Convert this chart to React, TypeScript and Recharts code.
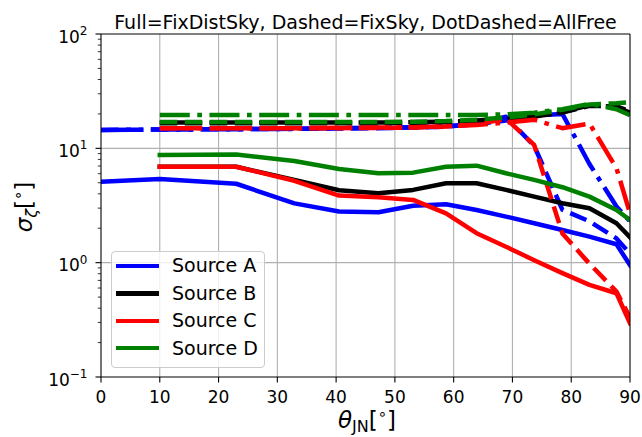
import React from 'react';
import { LineChart, Line, XAxis, YAxis, ReferenceLine, Legend } from 'recharts';

const FONT = '"DejaVu Sans", sans-serif';

// inclination angles (deg)
const theta = [0, 10, 23, 32.9, 40.5, 47.2, 53.1, 58.7, 63.9, 68.9, 73.7, 78.5, 83.1, 87.7, 90];

// Full = FixDistSky
const aFull = [5.1, 5.4, 4.9, 3.3, 2.8, 2.76, 3.15, 3.24, 2.89, 2.53, 2.21, 1.93, 1.69, 1.45, 0.95];
const bFull = [null, 6.9, 6.9, 5.3, 4.3, 4.05, 4.33, 4.95, 4.95, 4.33, 3.78, 3.31, 2.99, 2.21, 1.67];
const cFull = [null, 6.9, 6.9, 5.2, 3.86, 3.73, 3.54, 2.7, 1.81, 1.38, 1.05, 0.81, 0.64, 0.54, 0.295];
const dFull = [null, 8.75, 8.85, 7.75, 6.6, 6.05, 6.13, 6.9, 7.05, 6.05, 5.3, 4.57, 3.78, 2.89, 2.36];

// Dashed = FixSky
const aDash = [14.5, 14.6, 14.7, 14.8, 14.9, 15.0, 15.2, 15.5, 16.3, 18.9, 10.5, 2.9, 2.3, 1.63, 1.2];
const bDash = [null, 16.6, 16.6, 16.6, 16.6, 16.6, 16.7, 16.9, 17.3, 18.0, 19.0, 20.5, 23.5, 23.3, 21.0];
const cDash = [null, 15.0, 15.0, 15.0, 15.0, 15.1, 15.2, 15.5, 16.2, 18.2, 10.7, 1.8, 0.98, 0.56, 0.33];
const dDash = [null, 17.0, 17.0, 17.0, 17.0, 17.0, 17.1, 17.3, 17.8, 18.6, 19.8, 21.7, 24.2, 24.8, 25.3];

// DotDashed = AllFree
const aDot = [14.5, 14.6, 14.7, 14.8, 15.0, 15.1, 15.3, 15.6, 16.3, 17.5, 19.3, 20.0, 7.3, 3.1, 2.3];
const bDot = [null, 16.8, 16.8, 16.8, 16.8, 16.8, 16.9, 17.1, 17.5, 18.2, 19.2, 20.8, 23.8, 23.0, 20.5];
const cDot = [null, 15.0, 15.0, 15.0, 15.1, 15.2, 15.3, 15.6, 16.0, 16.8, 17.8, 15.0, 16.5, 6.7, 2.7];
const dDot = [null, 19.6, 19.6, 19.6, 19.6, 19.6, 19.6, 19.6, 19.6, 19.8, 20.5, 22.0, 24.5, 22.0, 19.5];

const sources = ['Source A', 'Source B', 'Source C', 'Source D'];
const colors = ['#0000ff', '#000000', '#ff0000', '#008000'];

const xTicks = [0, 10, 20, 30, 40, 50, 60, 70, 80, 90];
const yMajor = [0.1, 1, 10, 100];
const yMinor = [
  0.2, 0.3, 0.4, 0.5, 0.6, 0.7, 0.8, 0.9,
  2, 3, 4, 5, 6, 7, 8, 9,
  20, 30, 40, 50, 60, 70, 80, 90,
];
const xGrid = [10, 20, 30, 40, 50, 60, 70, 80];
const yGrid = [1, 10];

const TITLE = 'Full=FixDistSky, Dashed=FixSky, DotDashed=AllFree';

const seriesValues: Record<string, (number | null)[]> = {
  aFull, aDash, aDot, bFull, bDash, bDot, cFull, cDash, cDot, dFull, dDash, dDot,
};

const data = theta.map((t, i) => {
  const row: Record<string, number | null> = { theta: t };
  Object.keys(seriesValues).forEach((k) => {
    row[k] = seriesValues[k][i];
  });
  return row;
});

const DASH = '17.5 7.5';
const DOTDASH = '30 7.5 4.7 7.5';

const series = ['a', 'b', 'c', 'd'].flatMap((s, i) => [
  { key: s + 'Full', color: colors[i], dash: undefined as string | undefined },
  { key: s + 'Dash', color: colors[i], dash: DASH },
  { key: s + 'Dot', color: colors[i], dash: DOTDASH },
]);

const YTick = (props: any) => {
  const { x, y, payload } = props;
  const v = payload.value;
  const major = yMajor.some((m) => Math.abs(m - v) < 1e-9);
  const exp = Math.round(Math.log10(v));
  return (
    <g>
      <line x1={x - (major ? 5.5 : 3.2)} x2={x} y1={y} y2={y} stroke="#000" strokeWidth={major ? 1.1 : 0.8} />
      {major && (
        <text x={x - 13.5} y={y + 8.6} textAnchor="end" fontFamily={FONT} fontSize={17} fill="#000">
          10
          <tspan fontSize={12} dy={-7.7}>{exp < 0 ? '\u2212' + Math.abs(exp) : String(exp)}</tspan>
        </text>
      )}
    </g>
  );
};

const XTick = (props: any) => {
  const { x, y, payload } = props;
  return (
    <g>
      <line x1={x} x2={x} y1={y} y2={y + 5.5} stroke="#000" strokeWidth={1.1} />
      <text x={x} y={y + 26} textAnchor="middle" fontFamily={FONT} fontSize={17} fill="#000">
        {payload.value}
      </text>
    </g>
  );
};

const XLabel = () => (
  <text x={367} y={428} textAnchor="middle" fontFamily={FONT} fontSize={23} fill="#000">
    <tspan fontStyle="italic">θ</tspan>
    <tspan fontSize={16} dy={4}>JN</tspan>
    <tspan dy={-4}>[</tspan>
    <tspan fontSize={15} dy={-9}>∘</tspan>
    <tspan dy={9}>]</tspan>
  </text>
);

const YLabel = () => (
  <text
    x={0}
    y={0}
    transform="translate(32 207) rotate(-90)"
    textAnchor="middle"
    fontFamily={FONT}
    fontSize={23}
    fill="#000"
  >
    <tspan fontStyle="italic">σ</tspan>
    <tspan fontStyle="italic" fontSize={16} dy={5}>ζ</tspan>
    <tspan dy={-5}>[</tspan>
    <tspan fontSize={15} dy={-9}>∘</tspan>
    <tspan dy={9}>]</tspan>
  </text>
);

const LegendBox = () => (
  <div
    style={{
      position: 'relative',
      width: 154,
      height: 117,
      boxSizing: 'border-box',
      border: '1px solid #cccccc',
      borderRadius: 4,
      background: 'rgba(255,255,255,0.8)',
      fontFamily: FONT,
      fontSize: 19,
      color: '#000',
    }}
  >
    {sources.map((s, i) => (
      <div
        key={s}
        style={{
          position: 'absolute',
          left: 4,
          top: 15 + i * 27.4 - 13.7 - 1,
          height: 27.4,
          display: 'flex',
          alignItems: 'center',
          whiteSpace: 'nowrap',
        }}
      >
        <div style={{ width: 43, height: 4.5, background: colors[i] }} />
        <span style={{ marginLeft: 13, lineHeight: '19px' }}>{s}</span>
      </div>
    ))}
  </div>
);

export default function App() {
  return (
    <div style={{ position: 'absolute', left: 0, top: 0, width: 642, height: 437, background: '#fff' }}>
      <div
        style={{
          position: 'absolute',
          left: 101,
          width: 529,
          top: 13.4,
          textAlign: 'center',
          fontFamily: FONT,
          fontSize: 19,
          lineHeight: '19px',
          whiteSpace: 'nowrap',
          color: '#000',
        }}
      >
        {TITLE}
      </div>
      <LineChart width={642} height={437} data={data} margin={{ top: 34, right: 12, bottom: 0, left: 41 }}>
        <XAxis
          dataKey="theta"
          type="number"
          domain={[0, 90]}
          ticks={xTicks}
          interval={0}
          allowDataOverflow
          tickSize={0}
          tickMargin={0}
          tickLine={false}
          tick={<XTick />}
          axisLine={{ stroke: '#000', strokeWidth: 1.1 }}
          height={60}
          label={<XLabel />}
        />
        <YAxis
          type="number"
          scale="log"
          domain={[0.1, 100]}
          ticks={[...yMajor, ...yMinor].sort((p, q) => p - q)}
          interval={0}
          allowDataOverflow
          tickSize={0}
          tickMargin={0}
          tickLine={false}
          tick={<YTick />}
          axisLine={{ stroke: '#000', strokeWidth: 1.1 }}
          width={60}
          label={<YLabel />}
        />
        {xGrid.map((v) => (
          <ReferenceLine key={'gx' + v} x={v} stroke="#b0b0b0" strokeWidth={1.1} />
        ))}
        {yGrid.map((v) => (
          <ReferenceLine key={'gy' + v} y={v} stroke="#b0b0b0" strokeWidth={1.1} />
        ))}
        {series.map((s) => (
          <Line
            key={s.key}
            dataKey={s.key}
            type="linear"
            stroke={s.color}
            strokeWidth={4.5}
            strokeDasharray={s.dash}
            strokeLinejoin="round"
            strokeLinecap={s.dash ? 'butt' : 'square'}
            dot={false}
            activeDot={false}
            isAnimationActive={false}
            connectNulls={false}
          />
        ))}
        <ReferenceLine y={100} stroke="#000" strokeWidth={1.1} />
        <ReferenceLine x={90} stroke="#000" strokeWidth={1.1} />
        <Legend
          layout="horizontal"
          verticalAlign="middle"
          align="center"
          wrapperStyle={{ left: 111, top: 251, width: 154, height: 117 }}
          content={() => <LegendBox />}
        />
      </LineChart>
    </div>
  );
}
